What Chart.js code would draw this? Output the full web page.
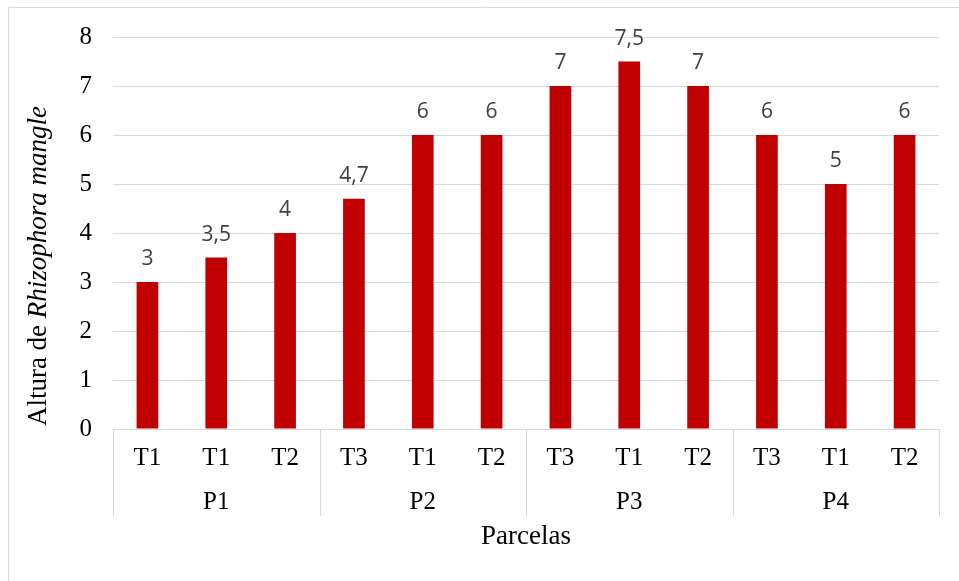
<!DOCTYPE html>
<html>
<head>
<meta charset="utf-8">
<script src="https://cdn.jsdelivr.net/npm/chart.js@4/dist/chart.umd.min.js"></script>
<style>
  html, body { margin: 0; padding: 0; background: #ffffff; }
  #wrap { width: 959px; height: 581px; position: relative; }
</style>
</head>
<body>
<div id="wrap"><canvas id="c" width="959" height="581"></canvas></div>
<script>
// Treatment per bar, grouped three by three into the plots (parcelas)
const treatments = ['T1', 'T1', 'T2', 'T3', 'T1', 'T2', 'T3', 'T1', 'T2', 'T3', 'T1', 'T2'];
const plots = ['P1', 'P2', 'P3', 'P4'];
const barsPerPlot = 3;
// Height of Rhizophora mangle for each bar
const heights = [3, 3.5, 4, 4.7, 6, 6, 7, 7.5, 7, 6, 5, 6];
// Value axis
const yMin = 0;
const yMax = 8;
const yStep = 1;

const SERIF = "'Liberation Serif', 'Times New Roman', serif";
const SANS = "'Open Sans', 'Liberation Sans', sans-serif";
const GRID = '#d9d9d9';
const BAR = '#c00000';

const fmt = v => String(v).replace('.', ',');

const decor = {
  id: 'decor',
  beforeDraw(chart) {
    const ctx = chart.ctx;
    ctx.save();
    ctx.strokeStyle = GRID;
    ctx.lineWidth = 1;
    ctx.beginPath();
    ctx.moveTo(8.5, chart.height);
    ctx.lineTo(8.5, 7.5);
    ctx.lineTo(chart.width, 7.5);
    ctx.stroke();
    ctx.restore();
  },
  afterDatasetsDraw(chart) {
    const ctx = chart.ctx;
    const meta = chart.getDatasetMeta(0);
    ctx.save();
    ctx.font = `21px ${SANS}`;
    ctx.fillStyle = '#404040';
    ctx.textAlign = 'center';
    ctx.textBaseline = 'alphabetic';
    meta.data.forEach((el, i) => {
      ctx.fillText(fmt(heights[i]), el.x, el.y - 17);
    });
    ctx.restore();
  },
  afterDraw(chart) {
    const ctx = chart.ctx;
    const x = chart.scales.x;
    const area = chart.chartArea;
    ctx.save();
    // plot separators spanning both label rows
    ctx.strokeStyle = GRID;
    ctx.lineWidth = 1;
    for (let g = 0; g <= plots.length; g++) {
      const px = Math.round(x.getPixelForValue(g * barsPerPlot - 0.5)) + 0.5;
      ctx.beginPath();
      ctx.moveTo(px, area.bottom);
      ctx.lineTo(px, 516);
      ctx.stroke();
    }
    // plot names
    ctx.fillStyle = '#000000';
    ctx.font = `25px ${SERIF}`;
    ctx.textAlign = 'center';
    ctx.textBaseline = 'alphabetic';
    plots.forEach((p, g) => {
      const px = x.getPixelForValue(g * barsPerPlot + (barsPerPlot - 1) / 2);
      ctx.fillText(p, px, 509);
    });
    // value axis title with italic species name
    const parts = [
      { t: 'Altura de ', f: `27px ${SERIF}` },
      { t: 'Rhizophora mangle', f: `italic 27px ${SERIF}` }
    ];
    let total = 0;
    parts.forEach(p => { ctx.font = p.f; p.w = ctx.measureText(p.t).width; total += p.w; });
    ctx.translate(46, 266);
    ctx.rotate(-Math.PI / 2);
    ctx.textAlign = 'left';
    let cx = -total / 2;
    parts.forEach(p => { ctx.font = p.f; ctx.fillText(p.t, cx, 0); cx += p.w; });
    ctx.restore();
  }
};

new Chart(document.getElementById('c'), {
  type: 'bar',
  data: {
    labels: treatments,
    datasets: [{
      data: heights,
      backgroundColor: BAR,
      borderWidth: 0,
      barPercentage: 0.315,
      categoryPercentage: 1.0
    }]
  },
  options: {
    responsive: false,
    animation: false,
    devicePixelRatio: 1,
    layout: { padding: { left: 0, right: 20, top: 37, bottom: 0 } },
    plugins: { legend: { display: false }, tooltip: { enabled: false } },
    scales: {
      x: {
        grid: { display: false, drawTicks: false },
        border: { display: true, color: GRID, width: 1 },
        ticks: {
          color: '#000000',
          font: { family: SERIF, size: 25 },
          padding: 14,
          autoSkip: false,
          maxRotation: 0
        },
        title: {
          display: true,
          text: 'Parcelas',
          color: '#000000',
          font: { family: SERIF, size: 27 },
          padding: { top: 0, bottom: 28 }
        },
        afterFit(scale) { scale.height = 152; }
      },
      y: {
        min: yMin,
        max: yMax,
        ticks: {
          stepSize: yStep,
          color: '#000000',
          font: { family: SERIF, size: 25 },
          padding: 21
        },
        grid: { color: GRID, lineWidth: 1, drawTicks: false },
        border: { display: false },
        afterFit(scale) { scale.width = 113; }
      }
    }
  },
  plugins: [decor]
});
</script>
</body>
</html>
